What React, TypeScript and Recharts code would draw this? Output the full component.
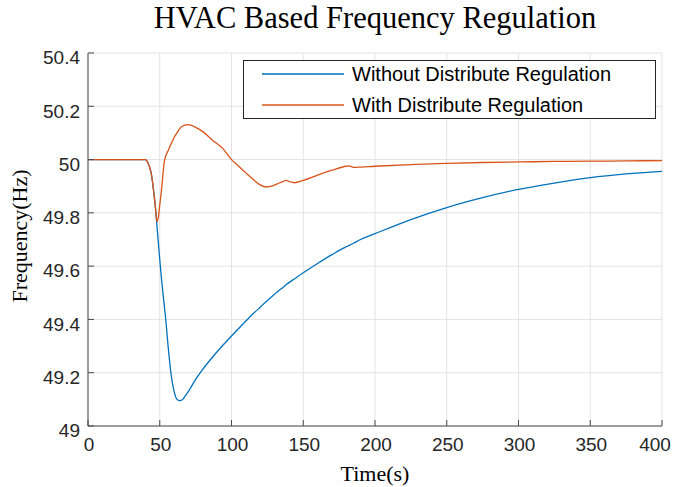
import React from 'react';
import { LineChart, Line, XAxis, YAxis, CartesianGrid, Legend, Label } from 'recharts';

// sample times (s)
const timeS = [
  0, 40, 42, 44, 46, 47, 48, 49, 50, 51, 52, 53, 54,
  56, 58, 60, 62, 64, 66, 68, 70, 72, 75, 80,
  87, 94, 100, 105, 110, 115, 120, 124, 128, 132, 136, 138, 141, 144, 150,
  160, 170, 180, 182, 185, 190, 200,
  225, 250, 275, 300, 325, 350, 375, 400,
];

// frequency without distributed regulation (Hz)
const withoutReg = [
  50, 50, 49.985, 49.95, 49.87, 49.82, 49.755, 49.69, 49.625, 49.565, 49.51, 49.46, 49.41,
  49.29, 49.19, 49.13, 49.1, 49.095, 49.1, 49.115, 49.13, 49.148, 49.175, 49.213,
  49.26, 49.303, 49.338, 49.366, 49.394, 49.421, 49.446, 49.466, 49.485, 49.504, 49.521, 49.53, 49.542, 49.553, 49.575,
  49.61, 49.643, 49.673, 49.678, 49.686, 49.7, 49.722,
  49.775, 49.82, 49.857, 49.888, 49.912, 49.932, 49.946, 49.956,
];

// frequency with distributed regulation (Hz)
const withReg = [
  50, 50, 49.985, 49.95, 49.87, 49.82, 49.768, 49.782, 49.83, 49.875, 49.93, 49.985, 50.01,
  50.035, 50.06, 50.083, 50.1, 50.117, 50.126, 50.13, 50.131, 50.128, 50.121, 50.105,
  50.072, 50.041, 50.0, 49.975, 49.95, 49.926, 49.905, 49.897, 49.9, 49.909, 49.918, 49.922, 49.916, 49.913, 49.922,
  49.942, 49.96, 49.975, 49.976, 49.971, 49.972, 49.975,
  49.981, 49.986, 49.989, 49.991, 49.993, 49.994, 49.995, 49.996,
];

const xTicks = [0, 50, 100, 150, 200, 250, 300, 350, 400];
const yTicks = [49, 49.2, 49.4, 49.6, 49.8, 50, 50.2, 50.4];

const data = timeS.map((t, i) => ({ t, without: withoutReg[i], with: withReg[i] }));

const blue = '#0072BD';
const orange = '#D95319';
const axisColor = '#4a4a4a';
const sans = '"Liberation Sans", Arial, sans-serif';
const serif = '"Liberation Serif", "Times New Roman", serif';

const XTick = (props: any) => {
  const { x, y, payload } = props;
  const shift = payload.value === 400 ? -7 : 1;
  return (
    <text x={x + shift} y={y} dy="0.71em" textAnchor="middle" fontSize={19} fontFamily={sans} fill="#262626">
      {payload.value}
    </text>
  );
};

const YTick = (props: any) => {
  const { x, y, payload } = props;
  return (
    <text x={x} y={y + 4.5} dy="0.355em" textAnchor="end" fontSize={19} fontFamily={sans} fill="#262626">
      {Number(payload.value.toFixed(1))}
    </text>
  );
};

const legendOrder = ['without', 'with'];

const renderLegend = (props: any) => {
  const payload = [...props.payload].sort(
    (a: any, b: any) => legendOrder.indexOf(a.dataKey) - legendOrder.indexOf(b.dataKey)
  );
  return (
    <div
      style={{
        width: 411,
        height: 57,
        border: '1px solid #262626',
        background: '#fff',
        position: 'relative',
        fontFamily: sans,
        fontSize: 20,
        color: '#000',
      }}
    >
      {payload.map((entry: any, i: number) => (
        <div key={entry.value} style={{ position: 'absolute', left: 0, top: 1 + i * 31, height: 24, display: 'flex', alignItems: 'center' }}>
          <svg width={102} height={24} style={{ display: 'block' }}>
            <line x1={18} x2={100} y1={12} y2={12} stroke={entry.color} strokeWidth={1.3} />
          </svg>
          <span style={{ marginLeft: 6, lineHeight: '24px', whiteSpace: 'nowrap' }}>{entry.value}</span>
        </div>
      ))}
    </div>
  );
};

export default function App() {
  return (
    <div style={{ position: 'absolute', left: 0, top: 0, width: 675, height: 487, background: '#fff' }}>
      <div
        style={{
          position: 'absolute',
          left: 88,
          width: 574,
          top: 0,
          textAlign: 'center',
          fontFamily: serif,
          fontSize: 30.5,
          lineHeight: '34px',
          paddingTop: 1,
          color: '#000',
        }}
      >
        HVAC Based Frequency Regulation
      </div>
      <LineChart width={675} height={487} data={data} margin={{ top: 53, right: 13, bottom: 0, left: 0 }}>
        <CartesianGrid stroke="#e3e3e3" strokeWidth={1} />
        <XAxis
          dataKey="t"
          type="number"
          domain={[0, 400]}
          ticks={xTicks}
          height={61}
          tickSize={-6}
          tickMargin={18}
          tick={<XTick />}
          stroke={axisColor}
          allowDataOverflow
        >
          <Label
            value="Time(s)"
            position="insideBottom"
            offset={6}
            style={{ fontFamily: serif, fontSize: 22, fill: '#000' }}
          />
        </XAxis>
        <XAxis
          xAxisId="top"
          orientation="top"
          dataKey="t"
          type="number"
          domain={[0, 400]}
          ticks={xTicks}
          height={0}
          tickSize={-6}
          tick={false}
          stroke={axisColor}
        />
        <YAxis
          type="number"
          domain={[49, 50.4]}
          ticks={yTicks}
          width={88}
          tickSize={-6}
          tickMargin={14}
          tick={<YTick />}
          stroke={axisColor}
          allowDataOverflow
        >
          <Label
            content={() => (
              <text
                x={27}
                y={236}
                transform="rotate(-90 27 236)"
                textAnchor="middle"
                fontFamily={serif}
                fontSize={22}
                fill="#000"
              >
                Frequency(Hz)
              </text>
            )}
          />
        </YAxis>
        <YAxis
          yAxisId="right"
          orientation="right"
          type="number"
          domain={[49, 50.4]}
          ticks={yTicks}
          width={0}
          tickSize={-6}
          tick={false}
          stroke={axisColor}
        />
        <Legend
          content={renderLegend}
          layout="vertical"
          verticalAlign="middle"
          align="center"
          wrapperStyle={{ left: 243, top: 60, width: 413, height: 59 }}
        />
        <Line
          type="monotone"
          dataKey="without"
          name="Without Distribute Regulation"
          stroke={blue}
          strokeWidth={1.3}
          dot={false}
          isAnimationActive={false}
        />
        <Line
          type="monotone"
          dataKey="with"
          name="With Distribute Regulation"
          stroke={orange}
          strokeWidth={1.3}
          dot={false}
          isAnimationActive={false}
        />
      </LineChart>
    </div>
  );
}
